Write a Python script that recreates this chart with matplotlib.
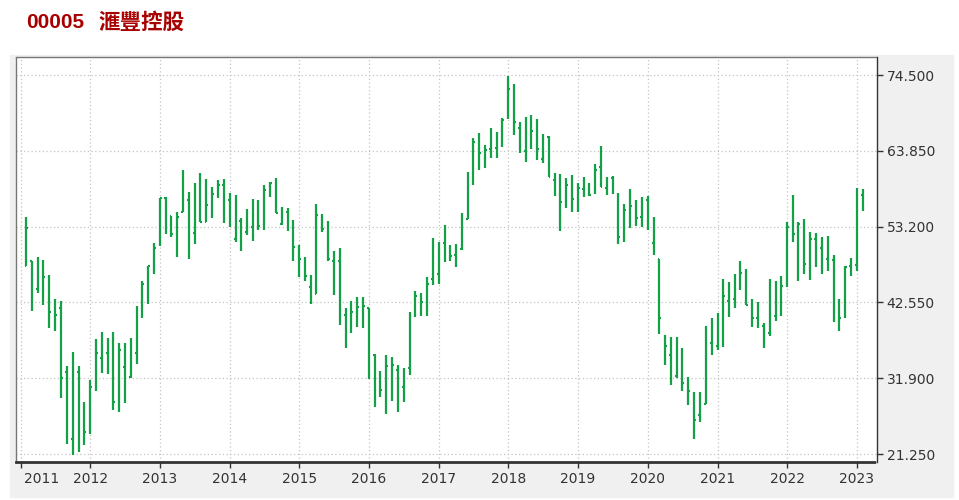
import numpy as np
import pandas as pd
import matplotlib
matplotlib.use('Agg')
import matplotlib.pyplot as plt
import matplotlib.dates as mdates
from matplotlib.patches import Rectangle
from matplotlib.transforms import ScaledTranslation

# monthly OHLC, Feb 2011 .. Feb 2023
months = pd.date_range('2011-02-01', '2023-02-01', freq='MS')
opens = [47.7, 48.3, 44.4, 47.7, 45.8, 42.7, 41.8, 32.8, 23.3, 32.8, 26.3,
         25.5, 30.3, 34.7, 35.4, 37.6, 27.8, 33.5, 32.1, 35.5, 40.8, 45.2, 47.8,
         50.9, 57.2, 54.7, 52.5, 55.2, 56.9, 52.3, 58.1, 53.9, 56.0, 57.8, 59.1,
         56.9, 51.5, 54.0, 52.5, 53.2, 56.1, 53.8, 58.4, 59.1, 53.6, 55.3, 52.8,
         50.3, 47.9, 44.7, 43.8, 54.3, 52.8, 48.4, 48.4, 40.8, 38.5, 40.6, 42.3,
         41.8, 35.1, 29.9, 30.3, 33.4, 33.0, 30.7, 33.4, 40.7, 41.5, 42.6, 45.8,
         46.5, 50.9, 48.5, 49.2, 50.0, 54.3, 59.3, 65.1, 63.5, 64.1, 64.3, 66.3,
         68.6, 71.8, 67.0, 63.8, 68.2, 66.2, 62.7, 65.8, 59.8, 60.5, 56.9, 59.8,
         57.1, 58.5, 57.8, 57.9, 61.6, 58.6, 60.0, 57.7, 51.6, 54.8, 54.4, 54.5,
         57.0, 50.9, 48.6, 37.1, 35.1, 32.2, 31.8, 31.2, 29.2, 26.7, 28.3, 36.9,
         36.4, 36.9, 42.8, 43.0, 46.7, 46.7, 42.2, 40.3, 39.3, 38.3, 40.7, 41.1,
         44.8, 55.3, 52.1, 53.1, 47.9, 51.5, 50.2, 48.6, 48.5, 40.3, 40.6, 47.7,
         47.8, 57.7]
highs = [54.6, 48.3, 48.9, 48.5, 46.4, 43.0, 42.8, 33.6, 35.6, 33.6, 28.5,
         31.7, 37.4, 38.4, 37.5, 38.4, 36.8, 36.9, 37.6, 42.1, 45.6, 47.7, 50.9,
         57.2, 57.3, 54.7, 55.3, 61.1, 58.0, 59.3, 60.8, 59.9, 58.8, 59.8, 59.9,
         57.9, 57.7, 54.4, 55.7, 57.1, 57.0, 59.0, 59.5, 60.1, 55.9, 55.8, 54.1,
         50.6, 49.0, 46.4, 56.4, 55.0, 54.0, 49.8, 50.2, 41.8, 42.7, 43.3, 43.3,
         41.8, 35.3, 32.9, 35.2, 34.9, 33.8, 33.4, 41.2, 44.2, 43.9, 46.1, 51.6,
         51.1, 53.4, 50.6, 50.7, 55.1, 60.9, 65.6, 66.3, 64.7, 67.0, 66.5, 68.5,
         74.4, 73.3, 67.9, 68.6, 68.9, 68.3, 66.2, 65.9, 60.7, 60.6, 60.1, 60.5,
         59.3, 60.2, 59.3, 62.0, 64.5, 60.2, 60.3, 57.9, 56.4, 58.5, 56.9, 57.4,
         57.5, 54.6, 48.7, 38.0, 37.7, 37.7, 36.1, 32.1, 29.9, 30.0, 39.2, 40.3,
         41.1, 45.8, 45.4, 46.5, 48.3, 47.3, 43.1, 42.55, 39.7, 45.9, 45.6, 46.3,
         53.8, 57.7, 53.8, 54.3, 52.4, 52.3, 51.7, 51.9, 49.2, 43.1, 47.7, 48.8,
         58.6, 58.5]
lows = [47.6, 41.3, 43.9, 42.2, 39.0, 38.5, 29.1, 22.6, 21.1, 21.6, 22.5,
        24.0, 30.1, 32.7, 32.5, 27.4, 27.1, 28.4, 32.0, 33.9, 40.4, 42.3, 46.6,
        50.5, 52.2, 51.8, 48.9, 55.2, 48.7, 50.7, 53.8, 53.9, 54.4, 57.2, 53.7,
        53.2, 51.1, 49.8, 52.0, 51.2, 52.7, 52.7, 57.4, 55.1, 53.4, 52.6, 48.3,
        46.1, 45.6, 42.3, 43.8, 52.4, 48.4, 43.6, 39.4, 36.2, 38.3, 39.1, 39.0,
        31.8, 27.8, 29.2, 26.9, 28.7, 27.1, 28.5, 32.3, 40.5, 40.7, 40.7, 45.0,
        45.2, 48.2, 48.3, 47.5, 49.9, 54.3, 59.0, 61.1, 61.4, 62.9, 62.9, 64.4,
        68.3, 66.1, 63.6, 62.3, 64.1, 62.6, 62.1, 60.2, 57.5, 52.6, 55.8, 55.2,
        55.2, 57.3, 57.5, 57.8, 58.7, 57.7, 57.8, 50.7, 51.1, 53.0, 53.3, 53.2,
        52.7, 49.2, 38.1, 33.7, 31.0, 32.0, 30.1, 28.2, 23.4, 25.8, 28.3, 35.1,
        35.8, 36.3, 40.5, 41.8, 44.3, 42.2, 39.1, 38.9, 36.1, 37.9, 40.0, 40.7,
        44.7, 51.1, 45.6, 46.5, 45.7, 47.5, 46.5, 46.9, 39.8, 38.5, 40.3, 46.2,
        47.0, 55.4]
closes = [53.0, 45.2, 47.7, 46.1, 41.2, 40.8, 32.0, 25.8, 34.7, 22.9, 24.4,
          30.6, 35.4, 35.1, 37.4, 28.6, 35.8, 33.0, 35.1, 41.0, 45.2, 47.6, 50.2,
          57.2, 54.7, 52.2, 54.6, 57.2, 52.3, 58.1, 53.9, 56.3, 57.8, 59.1, 56.9,
          53.7, 55.0, 51.6, 53.2, 56.6, 53.3, 58.4, 59.3, 55.1, 55.3, 53.4, 50.3,
          48.7, 46.3, 43.9, 54.9, 52.8, 48.6, 48.4, 40.8, 37.0, 41.2, 41.9, 42.0,
          34.7, 29.8, 30.3, 33.6, 33.8, 29.9, 33.2, 40.9, 43.4, 42.6, 45.1, 46.5,
          50.9, 48.5, 49.1, 50.1, 54.4, 59.3, 65.1, 63.5, 64.0, 64.3, 66.3, 68.2,
          72.5, 67.9, 63.8, 68.4, 66.6, 64.1, 65.4, 60.2, 60.5, 56.6, 59.1, 57.1,
          58.6, 57.9, 57.7, 61.2, 58.7, 59.8, 57.9, 51.7, 55.6, 56.1, 54.4, 57.0,
          53.0, 49.4, 40.3, 36.4, 32.1, 32.3, 31.2, 30.1, 26.1, 28.3, 37.6, 36.8,
          37.0, 43.5, 43.0, 45.9, 46.7, 42.2, 40.4, 39.3, 38.6, 45.1, 44.5, 44.8,
          53.1, 52.1, 53.5, 47.9, 51.5, 51.4, 48.6, 48.5, 41.2, 40.3, 47.5, 48.6,
          57.9, 57.2]
ytick_vals = [21.25, 31.9, 42.55, 53.2, 63.85, 74.5]
years = list(range(2011, 2024))

green = '#14a046'
fig = plt.figure(figsize=(9.59, 5), dpi=100)
bg = Rectangle((10 / 959, 3 / 500), 943 / 959, 442 / 500,
               transform=fig.transFigure, color='#f0f0f0', zorder=-10)
fig.patches.append(bg)
fig.text(26 / 959, 1 - 22 / 500, '00005', color='#a80000', fontsize=15,
         fontweight='bold', va='center', ha='left', family='Liberation Sans')
fig.text(99 / 959, 1 - 22 / 500, '滙豐控股', color='#a80000', fontsize=15.5,
         fontweight='bold', va='center', ha='left', family='Noto Sans CJK TC')

ax = fig.add_axes([16 / 959, 38 / 500, 861 / 959, 405 / 500])
ax.set_facecolor('white')
x = mdates.date2num(months)
ax.vlines(x, lows, highs, color=green, lw=1.6, zorder=3)
ax.hlines(opens, x - 8, x, color=green, lw=1.5, zorder=3)
ax.hlines(closes, x, x + 8, color=green, lw=1.5, zorder=3)

ax.set_xlim(mdates.date2num(pd.Timestamp('2010-12-08')),
            mdates.date2num(pd.Timestamp('2023-04-17')))
ax.set_ylim(20.13, 77.03)

ax.yaxis.tick_right()
ax.set_yticks(ytick_vals)
ax.set_yticklabels(['%.3f' % v for v in ytick_vals])
ax.set_xticks([mdates.date2num(pd.Timestamp(f'{y}-01-01')) for y in years])
ax.set_xticklabels([str(y) for y in years])
ax.tick_params(axis='y', length=4, width=1, color='#333333', labelsize=10,
               labelcolor='#333333', pad=3)
ax.tick_params(axis='x', length=4, width=1, color='#333333', labelsize=10,
               labelcolor='#333333', pad=3)
first = ax.get_xticklabels()[0]
first.set_transform(first.get_transform() + ScaledTranslation(21 / 100, 0, fig.dpi_scale_trans))
ax.grid(True, color='#c4c4c4', linestyle=(0, (1, 2)), lw=0.9)
ax.set_axisbelow(True)

for s in ['top', 'left']:
    ax.spines[s].set_linestyle((0, (1, 1)))
    ax.spines[s].set_color('#777777')
    ax.spines[s].set_linewidth(1)
ax.spines['right'].set_color('#333333')
ax.spines['right'].set_linewidth(1)
ax.spines['bottom'].set_linestyle((0, (1, 1)))
ax.spines['bottom'].set_color('#333333')
ax.spines['bottom'].set_linewidth(2)

fig.savefig('out.png', dpi=100, facecolor='white')
